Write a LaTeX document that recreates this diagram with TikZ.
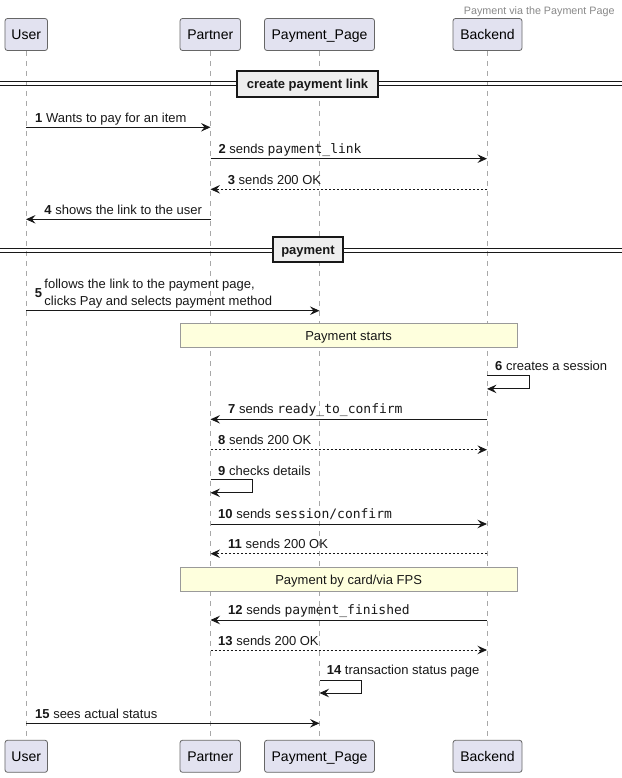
\documentclass[tikz,border=0pt]{standalone}
\usepackage{fontspec}
\setmainfont{Liberation Sans}
\setmonofont{DejaVu Sans Mono}
\usetikzlibrary{arrows.meta}
\definecolor{ink}{HTML}{181818}
\definecolor{partfill}{HTML}{E2E2F0}
\definecolor{partline}{HTML}{666666}
\definecolor{lifecol}{HTML}{A8A8A8}
\definecolor{notefill}{HTML}{FEFFDD}
\definecolor{noteline}{HTML}{9A9A9A}
\definecolor{divfill}{HTML}{EEEEEE}
\definecolor{titlecol}{HTML}{888888}
\begin{document}
\begin{tikzpicture}[x=1bp,y=-1bp,
  part/.style={draw=partline, fill=partfill, rounded corners=2.5bp, line width=0.8bp,
    minimum height=32bp, inner sep=0pt, text height=10.1bp, text depth=0pt,
    font=\fontsize{14bp}{16bp}\selectfont},
  lifeline/.style={draw=lifecol, line width=0.9bp, dash pattern=on 5bp off 5bp},
  msg/.style={draw=ink, line width=0.9bp, -{Stealth[length=9.5bp,width=8.5bp,inset=3.5bp]}},
  ret/.style={msg, dash pattern=on 2bp off 2bp},
  lbl/.style={anchor=base west, inner sep=0pt, text=ink, font=\fontsize{13bp}{15bp}\selectfont},
  notebox/.style={draw=noteline, fill=notefill, line width=0.8bp, inner sep=0pt,
    text height=9.4bp, text depth=0pt,
    font=\fontsize{13bp}{15bp}\selectfont, text=ink},
  divline/.style={draw=ink, line width=0.9bp},
  divbox/.style={draw=ink, fill=divfill, line width=1.8bp, inner sep=0pt,
    text height=9.4bp, text depth=0pt,
    font=\bfseries\fontsize{13bp}{15bp}\selectfont, text=ink},
  titletext/.style={anchor=east, inner sep=0pt, text=titlecol, font=\fontsize{10.75bp}{12bp}\selectfont}
]
\useasboundingbox (0,0) rectangle (622,778);

% title
\node[titletext] (title) at (614.7,12) {Payment via the Payment Page};

% participants
\node[part, minimum width=42.5bp] (uT) at (26.25,34.5) {User};
\node[part, minimum width=60.5bp] (pT) at (210.25,34.5) {Partner};
\node[part, minimum width=110bp] (gT) at (319.5,34.5) {Payment\_Page};
\node[part, minimum width=69bp] (bT) at (487.5,34.5) {Backend};
\node[part, minimum width=42.5bp] (uB) at (26.25,756.3) {User};
\node[part, minimum width=60.5bp] (pB) at (210.25,756.3) {Partner};
\node[part, minimum width=110bp] (gB) at (319.5,756.3) {Payment\_Page};
\node[part, minimum width=69bp] (bB) at (487.5,756.3) {Backend};

% lifelines
\draw[lifeline] (uT.south) -- (uB.north);
\draw[lifeline] (pT.south) -- (pB.north);
\draw[lifeline] (gT.south) -- (gB.north);
\draw[lifeline] (bT.south) -- (bB.north);

% divider 1
\coordinate (d1l) at (0,81.6);
\coordinate (d1r) at (622,81.6);
\coordinate (d1l2) at (0,85.6);
\coordinate (d1r2) at (622,85.6);
\draw[divline] (d1l) -- (d1r);
\draw[divline] (d1l2) -- (d1r2);
\node[divbox, minimum width=141.6bp, minimum height=25.7bp] (div1) at (307.5,83.8) {create payment link};

% message 1
\coordinate (m1a) at (26,127.3); \coordinate (m1b) at (210.5,127.3);
\draw[msg] (m1a) -- (m1b);
\node[lbl] (l1) at (35,122.5) {\textbf{1} Wants to pay for an item};

% message 2
\coordinate (m2a) at (210.5,158.7); \coordinate (m2b) at (487,158.7);
\draw[msg] (m2a) -- (m2b);
\node[lbl] (l2) at (218.3,153.6) {\textbf{2} sends \texttt{payment\_link}};

% message 3
\coordinate (m3a) at (487,189.3); \coordinate (m3b) at (210.5,189.3);
\draw[ret] (m3a) -- (m3b);
\node[lbl] (l3) at (227.7,184.2) {\textbf{3} sends 200 OK};

% message 4
\coordinate (m4a) at (210.5,219.3); \coordinate (m4b) at (26,219.3);
\draw[msg] (m4a) -- (m4b);
\node[lbl] (l4) at (44.3,214.6) {\textbf{4} shows the link to the user};

% divider 2
\coordinate (d2l) at (0,248.5);
\coordinate (d2r) at (622,248.5);
\coordinate (d2l2) at (0,252.5);
\coordinate (d2r2) at (622,252.5);
\draw[divline] (d2l) -- (d2r);
\draw[divline] (d2l2) -- (d2r2);
\node[divbox, minimum width=70.6bp, minimum height=25.6bp] (div2) at (308,249.5) {payment};

% message 5
\coordinate (m5a) at (26,310.7); \coordinate (m5b) at (319.5,310.7);
\draw[msg] (m5a) -- (m5b);
\node[lbl] (l5n) at (34.7,297) {\textbf{5}};
\node[lbl] (l5a) at (44.3,288.7) {follows the link to the payment page,};
\node[lbl] (l5b) at (44.3,305.5) {clicks Pay and selects payment method};

% note 1
\node[notebox, minimum width=337.3bp, minimum height=24.4bp] (n1) at (348.65,335.5) {Payment starts};

% message 6 (self)
\node[lbl] (l6) at (495,370.3) {\textbf{6} creates a session};
\coordinate (m6a) at (487,375.7); \coordinate (m6b) at (487,388.9);
\draw[msg] (m6a) -- ++(42.3,0) |- (m6b);

% message 7
\coordinate (m7a) at (487,419.3); \coordinate (m7b) at (210.5,419.3);
\draw[msg] (m7a) -- (m7b);
\node[lbl] (l7) at (228,413.8) {\textbf{7} sends \texttt{ready\_to\_confirm}};

% message 8
\coordinate (m8a) at (210.5,449.7); \coordinate (m8b) at (487,449.7);
\draw[ret] (m8a) -- (m8b);
\node[lbl] (l8) at (218,444.8) {\textbf{8} sends 200 OK};

% message 9 (self)
\node[lbl] (l9) at (218,475) {\textbf{9} checks details};
\coordinate (m9a) at (210.5,479.8); \coordinate (m9b) at (210.5,492.8);
\draw[msg] (m9a) -- ++(41.8,0) |- (m9b);

% message 10
\coordinate (m10a) at (210.5,524); \coordinate (m10b) at (487,524);
\draw[msg] (m10a) -- (m10b);
\node[lbl] (l10) at (218,518.6) {\textbf{10} sends \texttt{session/confirm}};

% message 11
\coordinate (m11a) at (487,553.7); \coordinate (m11b) at (210.5,553.7);
\draw[ret] (m11a) -- (m11b);
\node[lbl] (l11) at (228,548.5) {\textbf{11} sends 200 OK};

% note 2
\node[notebox, minimum width=337.3bp, minimum height=24bp] (n2) at (348.65,579.3) {Payment by card/via FPS};

% message 12
\coordinate (m12a) at (487,620); \coordinate (m12b) at (210.5,620);
\draw[msg] (m12a) -- (m12b);
\node[lbl] (l12) at (228,614.8) {\textbf{12} sends \texttt{payment\_finished}};

% message 13
\coordinate (m13a) at (210.5,650); \coordinate (m13b) at (487,650);
\draw[ret] (m13a) -- (m13b);
\node[lbl] (l13) at (218,645) {\textbf{13} sends 200 OK};

% message 14 (self)
\node[lbl] (l14) at (326.7,674.5) {\textbf{14} transaction status page};
\coordinate (m14a) at (319.5,680.7); \coordinate (m14b) at (319.5,693);
\draw[msg] (m14a) -- ++(42.2,0) |- (m14b);

% message 15
\coordinate (m15a) at (26,723.3); \coordinate (m15b) at (319.5,723.3);
\draw[msg] (m15a) -- (m15b);
\node[lbl] (l15) at (35,718.6) {\textbf{15} sees actual status};
\end{tikzpicture}
\end{document}
